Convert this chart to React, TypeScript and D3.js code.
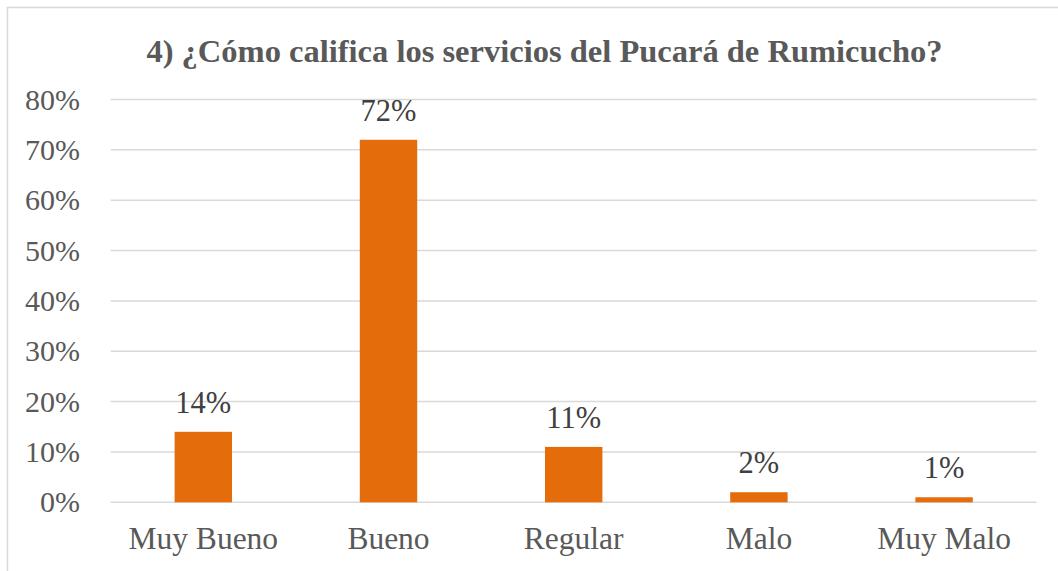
import React from "react";
import * as d3 from "d3";

const categories = ["Muy Bueno", "Bueno", "Regular", "Malo", "Muy Malo"];
const values = [14, 72, 11, 2, 1];
const yTicks = [0, 10, 20, 30, 40, 50, 60, 70, 80];
const title = "4) ¿Cómo califica los servicios del Pucará de Rumicucho?";

export default function App() {
  const W = 1058, H = 571;
  const left = 110.7, right = 1036.7, top = 99.5, bottom = 502.3;
  const x = d3.scaleBand<string>().domain(categories).range([left, right]).paddingInner(0.69).paddingOuter(0.345);
  const y = d3.scaleLinear().domain([0, 80]).range([bottom, top]);
  const font = "'Liberation Serif', 'Times New Roman', serif";
  return (
    <svg width={W} height={H} style={{ position: "absolute", left: 0, top: 0, background: "#fff" }}>
      <rect x={0} y={0} width={W} height={H} fill="#fff" />
      <rect x={7.5} y={7.5} width={1100} height={600} fill="#fff" stroke="#d9d9d9" strokeWidth={1.5} />
      <text x={544.5} y={62} textAnchor="middle" fontFamily={font} fontWeight="bold" fontSize={32.5} fill="#595959">{title}</text>
      {yTicks.map(t => (
        <g key={t}>
          <line x1={left} x2={right} y1={y(t)} y2={y(t)} stroke="#d9d9d9" strokeWidth={1.5} />
          <text x={80} y={y(t) + 10} textAnchor="end" fontFamily={font} fontSize={30} fill="#595959">{t}%</text>
        </g>
      ))}
      {categories.map((c, i) => (
        <g key={c}>
          <rect x={x(c)} y={y(values[i])} width={x.bandwidth()} height={y(0) - y(values[i])} fill="#e46c0a" />
          <text x={(x(c) as number) + x.bandwidth() / 2} y={y(values[i]) - 19} textAnchor="middle" fontFamily={font} fontSize={30.5} fill="#404040">{values[i]}%</text>
          <text x={(x(c) as number) + x.bandwidth() / 2} y={549.3} textAnchor="middle" fontFamily={font} fontSize={31.5} fill="#595959">{c}</text>
        </g>
      ))}
    </svg>
  );
}
